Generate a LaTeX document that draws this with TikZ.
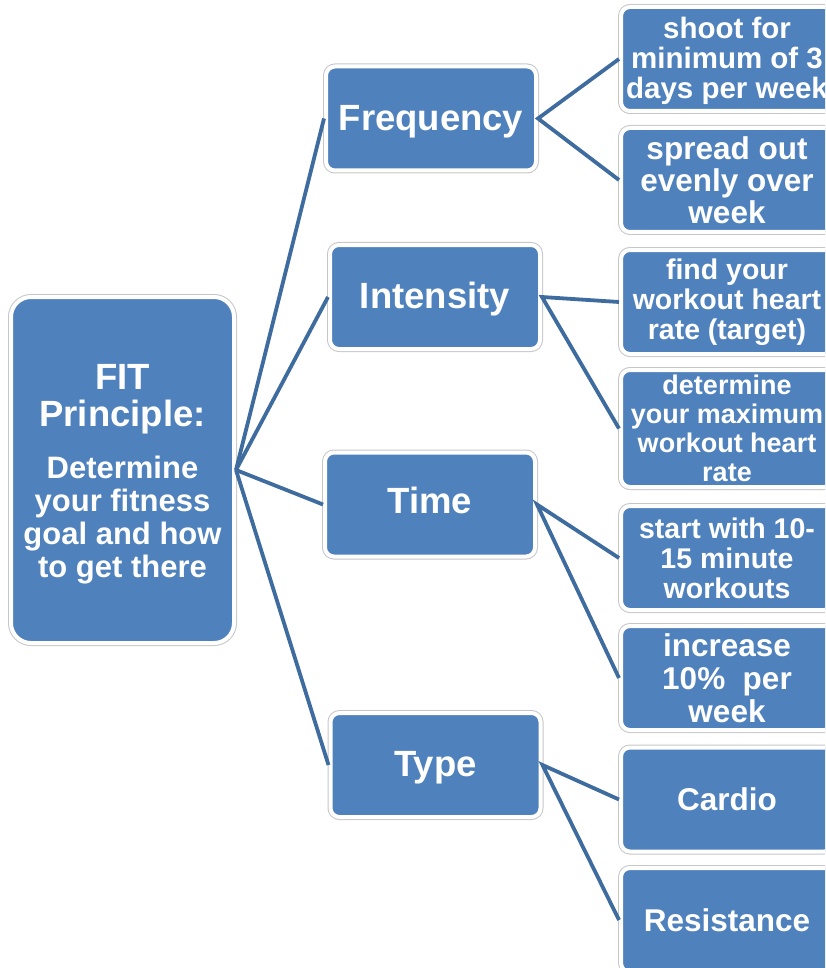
\documentclass[tikz,border=0pt]{standalone}
\usepackage{fontspec}
\setmainfont{Liberation Sans}
\definecolor{boxblue}{HTML}{4F81BD}
\definecolor{linkblue}{HTML}{3F6C9F}
\definecolor{rimgray}{HTML}{C6C6C6}
\newcommand\headfont{\fontsize{36.5}{37}\selectfont}
% move a one-line label up or down without changing its box
\newcommand\nudge[2]{\raisebox{#1}[\height][\depth]{#2}}
\tikzset{
  card/.style={rectangle, rounded corners=9pt, fill=boxblue, draw=white,
    line width=4pt, preaction={draw=rimgray, line width=6pt},
    inner sep=0pt, align=center, text=white, font=\bfseries},
  rootcard/.style={card, rounded corners=20pt, minimum width=223pt, minimum height=346pt,
    font=\bfseries\fontsize{31}{33}\selectfont},
  topic/.style={card, minimum width=210pt, minimum height=104pt,
    font=\bfseries\fontsize{36.5}{38}\selectfont},
  leaf/.style={card, minimum width=212pt, minimum height=104pt,
    font=\bfseries\fontsize{30}{31}\selectfont},
  link/.style={draw=linkblue, line width=3.8pt}
}
\begin{document}
\begin{tikzpicture}[x=1pt, y=-1pt]
\useasboundingbox (0,0) rectangle (825,968);
\clip (0,0) rectangle (825,968);

% root
\node[rootcard] (root) at (122.5,470)
  {\headfont\rule{0pt}{33pt}FIT\\[4pt] \headfont Principle:\\[19pt] Determine\\ your fitness\\ goal and how\\ to get there};

% second level
\node[topic] (freq) at (431,118.5) {\nudge{-3pt}{Frequency}};
\node[topic] (inten) at (435,297) {\nudge{-2pt}{Intensity}};
\node[topic] (time) at (430,504.5) {\nudge{4pt}{Time}};
\node[topic] (type) at (435.5,765) {\nudge{-3pt}{Type}};

% leaves
\node[leaf, font=\bfseries\fontsize{29.5}{30}\selectfont] (l1) at (727,59) {\rule{0pt}{26pt}shoot for\\ minimum of 3\\ days per week};
\node[leaf, font=\bfseries\fontsize{31.5}{32}\selectfont] (l2) at (727,180) {spread out\\ evenly over\\ week};
\node[leaf, font=\bfseries\fontsize{28.5}{30}\selectfont] (l3) at (727,302) {find your\\ workout heart\\ rate (target)};
\node[leaf, minimum height=117pt, font=\bfseries\fontsize{27}{29}\selectfont] (l4) at (727,428.5) {determine\\ your maximum\\ workout heart\\ rate};
\node[leaf, font=\bfseries\fontsize{28.5}{30}\selectfont] (l5) at (727,558) {start with 10-\\ 15 minute\\ workouts};
\node[leaf, font=\bfseries\fontsize{31.5}{33}\selectfont] (l6) at (727,678) {increase\\ 10\%\ \ per\\ week};
\node[leaf, font=\bfseries\fontsize{31.5}{33}\selectfont] (l7) at (727,799.5) {Cardio};
\node[leaf, font=\bfseries\fontsize{31.5}{33}\selectfont] (l8) at (727,920) {Resistance};

% connectors
\foreach \t in {freq,inten,time,type}
  \draw[link] (root.east) -- (\t.west);
\draw[link] (l1.west) -- (freq.east) -- (l2.west);
\draw[link] (l3.west) -- (inten.east) -- (l4.west);
\draw[link] (l5.west) -- (time.east) -- (l6.west);
\draw[link] (l7.west) -- (type.east) -- (l8.west);
\end{tikzpicture}
\end{document}
